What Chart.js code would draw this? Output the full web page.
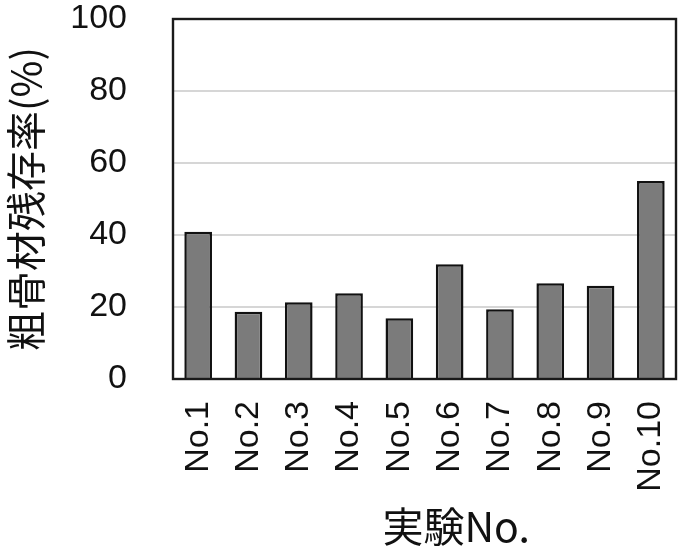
<!DOCTYPE html>
<html>
<head>
<meta charset="utf-8">
<script src="https://cdn.jsdelivr.net/npm/chart.js@4/dist/chart.umd.min.js"></script>
<style>
html,body{margin:0;padding:0;background:#fff;}
#wrap{width:693px;height:552px;}
</style>
</head>
<body>
<div id="wrap"><canvas id="c" width="693" height="552"></canvas></div>
<script>
const categories = ["No.1","No.2","No.3","No.4","No.5","No.6","No.7","No.8","No.9","No.10"];
const residualRate = [40.9, 18.7, 21.3, 23.8, 16.9, 31.9, 19.4, 26.6, 25.9, 55.0];
const yTicks = [0, 20, 40, 60, 80, 100];
const yTitle = "粗骨材残存率(%)";
const xTitle = "実験No.";

const FONT = "'Liberation Sans', 'Noto Sans CJK JP', sans-serif";
const CJK = "'Noto Sans CJK JP', 'Liberation Sans', sans-serif";

const boxPlugin = {
  id: 'box',
  afterDraw(chart) {
    const {ctx, chartArea: a} = chart;
    ctx.save();
    ctx.strokeStyle = '#1a1a1a';
    ctx.lineWidth = 2.4;
    ctx.strokeRect(a.left, a.top, a.right - a.left, a.bottom - a.top);
    ctx.fillStyle = '#111';
    ctx.font = "41px " + CJK;
    ctx.textAlign = 'center';
    ctx.textBaseline = 'middle';
    ctx.fillText(xTitle, a.left + (a.right - a.left) * 0.563, 526);
    ctx.restore();
  }
};

new Chart(document.getElementById('c'), {
  type: 'bar',
  data: {
    labels: categories,
    datasets: [{
      data: residualRate,
      backgroundColor: '#7b7b7b',
      borderColor: '#111',
      borderWidth: 2.5,
      barPercentage: 0.55,
      categoryPercentage: 1.0
    }]
  },
  options: {
    responsive: false,
    animation: false,
    devicePixelRatio: 1,
    layout: { padding: { top: 19, right: 17, left: 0, bottom: 0 } },
    plugins: { legend: { display: false }, tooltip: { enabled: false } },
    scales: {
      x: {
        grid: { display: false, drawTicks: false },
        border: { display: false },
        ticks: {
          color: '#111',
          font: { family: FONT, size: 34 },
          minRotation: 90, maxRotation: 90,
          padding: 22,
          autoSkip: false
        },
        afterFit(s) { s.height = 173; s.paddingLeft = 0; s.paddingRight = 0; }
      },
      y: {
        min: 0, max: 100,
        afterBuildTicks(s) { s.ticks = yTicks.map(v => ({ value: v })); },
        grid: {
          color: ctx => (ctx.tick && (ctx.tick.value === 0 || ctx.tick.value === 100)) ? 'rgba(0,0,0,0)' : '#d6d6d6',
          lineWidth: 2,
          drawTicks: false
        },
        border: { display: false },
        ticks: {
          color: '#111',
          font: { family: FONT, size: 34 },
          padding: 46
        },
        title: {
          display: true,
          text: yTitle,
          color: '#111',
          font: { family: CJK, size: 40 },
          padding: { top: 2, bottom: 0 }
        },
        afterFit(s) { s.width = 173; s.paddingTop = 0; s.paddingBottom = 0; }
      }
    }
  },
  plugins: [boxPlugin]
});
</script>
</body>
</html>
